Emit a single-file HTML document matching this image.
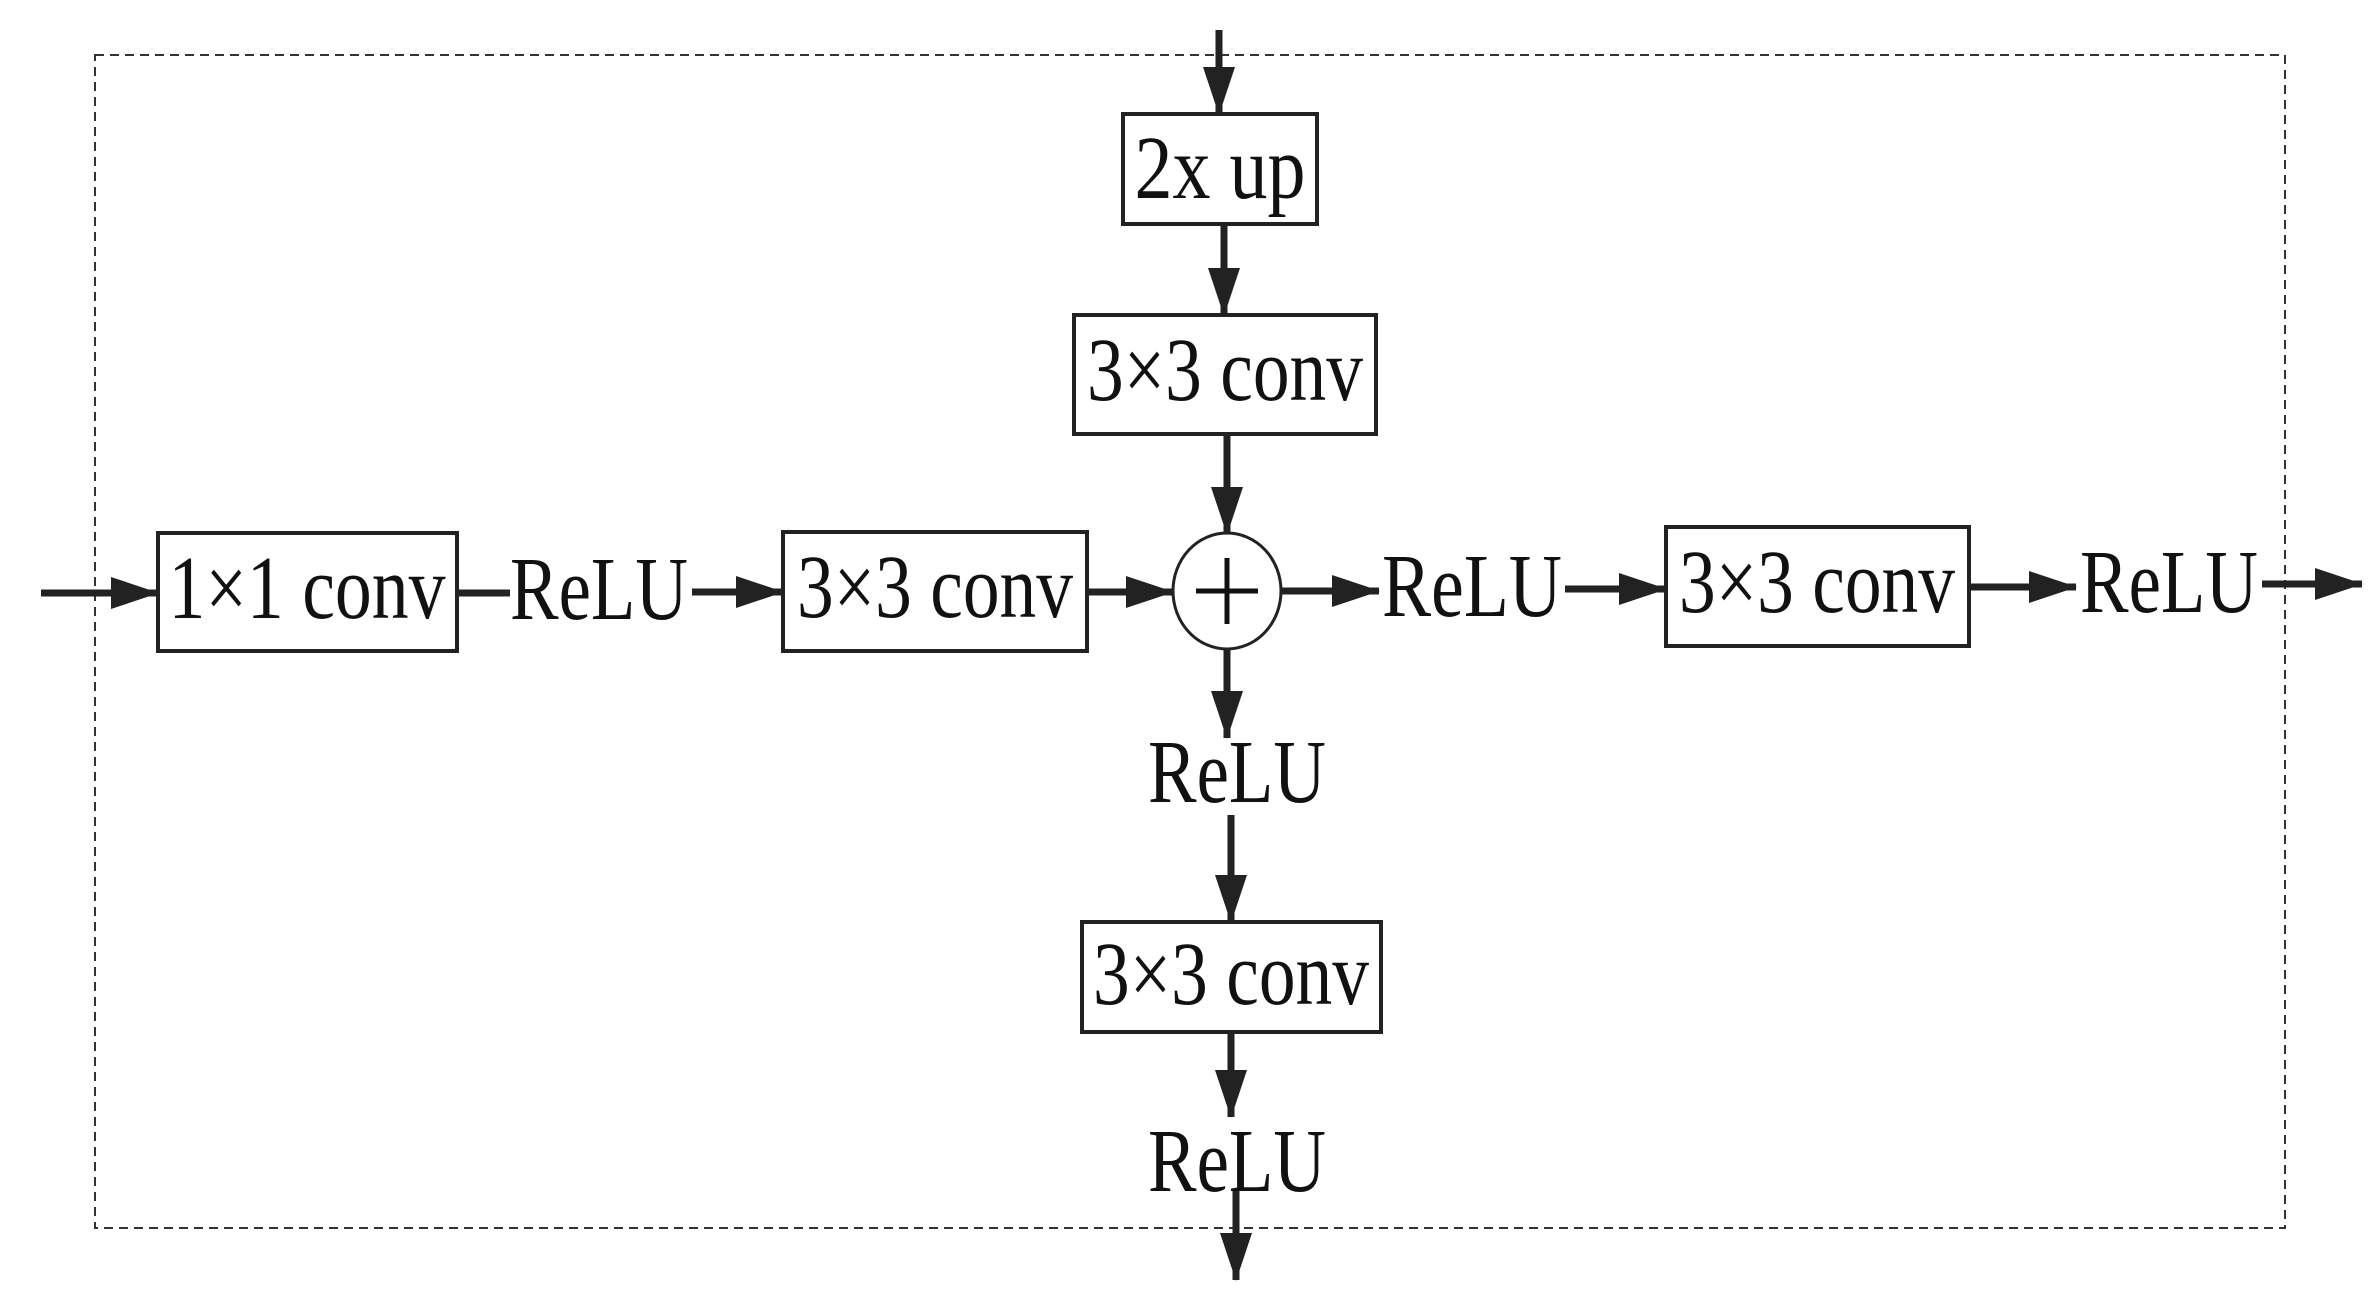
<!DOCTYPE html>
<html><head><meta charset="utf-8"><style>
html,body{margin:0;padding:0;background:#fff;}
svg{display:block;}
text{font-family:"Liberation Serif",serif;font-size:90px;fill:#111;text-anchor:middle;}
</style></head><body>
<svg width="2378" height="1311" viewBox="0 0 2378 1311" xmlns="http://www.w3.org/2000/svg">
<defs>
<marker id="a" markerWidth="48" markerHeight="32" refX="47" refY="16" markerUnits="userSpaceOnUse" orient="auto">
<path d="M0,0 L48,16 L0,32 Z" fill="#222"/></marker>
</defs>
<rect x="95" y="55" width="2190" height="1173" fill="none" stroke="#333" stroke-width="2" stroke-dasharray="9,6"/>
<g fill="#fff" stroke="#222" stroke-width="4">
<rect x="1123" y="114" width="194" height="110"/>
<rect x="1074" y="315" width="302" height="119"/>
<rect x="158" y="533" width="299" height="118"/>
<rect x="783" y="532" width="304" height="119"/>
<rect x="1666" y="527" width="303" height="119"/>
<rect x="1082" y="922" width="299" height="110"/>
<ellipse cx="1227" cy="591" rx="54" ry="58" stroke-width="3"/>
</g>
<g stroke="#111" stroke-width="5">
<line x1="1196" y1="591" x2="1258" y2="591"/>
<line x1="1227" y1="558" x2="1227" y2="624"/>
</g>
<g stroke="#222" stroke-width="7" fill="none" marker-end="url(#a)">
<line x1="1219" y1="30" x2="1219" y2="114"/>
<line x1="1224" y1="224" x2="1224" y2="315"/>
<line x1="1227" y1="434" x2="1227" y2="534"/>
<line x1="41" y1="593" x2="158" y2="593"/>
<line x1="692" y1="592" x2="783" y2="592"/>
<line x1="1087" y1="592" x2="1173" y2="592"/>
<line x1="1282" y1="591" x2="1379" y2="591"/>
<line x1="1565" y1="589" x2="1666" y2="589"/>
<line x1="1969" y1="587" x2="2076" y2="587"/>
<line x1="2262" y1="584" x2="2362" y2="584"/>
<line x1="1227" y1="649" x2="1227" y2="738"/>
<line x1="1231" y1="815" x2="1231" y2="922"/>
<line x1="1231" y1="1032" x2="1231" y2="1117"/>
<line x1="1236" y1="1189" x2="1236" y2="1280"/>
</g>
<line x1="457" y1="593" x2="510" y2="593" stroke="#222" stroke-width="7"/>
<text x="1220" y="198" textLength="171" lengthAdjust="spacingAndGlyphs">2x up</text>
<text x="1225" y="400" textLength="276" lengthAdjust="spacingAndGlyphs">3×3 conv</text>
<text x="307" y="618" textLength="277" lengthAdjust="spacingAndGlyphs">1×1 conv</text>
<text x="935" y="617" textLength="276" lengthAdjust="spacingAndGlyphs">3×3 conv</text>
<text x="1817" y="612" textLength="276" lengthAdjust="spacingAndGlyphs">3×3 conv</text>
<text x="1231" y="1004" textLength="276" lengthAdjust="spacingAndGlyphs">3×3 conv</text>
<text x="599" y="619" textLength="178" lengthAdjust="spacingAndGlyphs">ReLU</text>
<text x="1472" y="616" textLength="180" lengthAdjust="spacingAndGlyphs">ReLU</text>
<text x="2169" y="612" textLength="178" lengthAdjust="spacingAndGlyphs">ReLU</text>
<text x="1237" y="802" textLength="178" lengthAdjust="spacingAndGlyphs">ReLU</text>
<text x="1237" y="1191" textLength="178" lengthAdjust="spacingAndGlyphs">ReLU</text>
</svg>
</body></html>
